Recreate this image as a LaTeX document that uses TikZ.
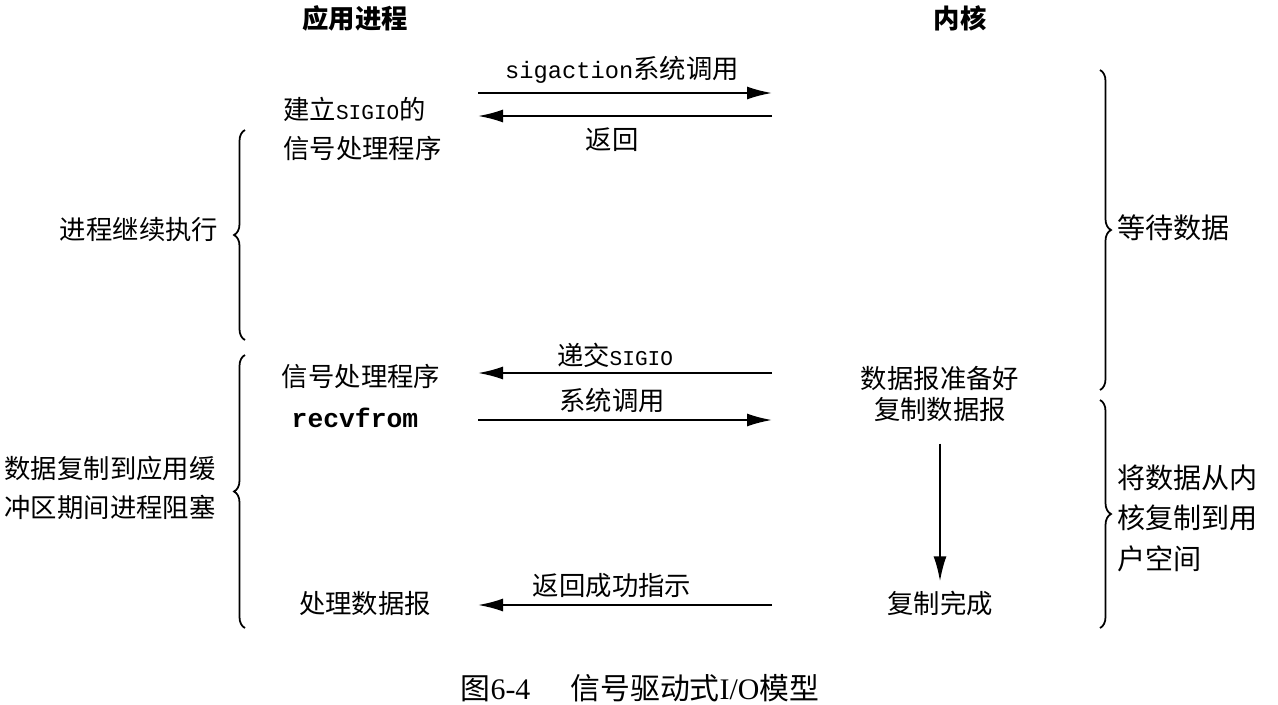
\documentclass[tikz,border=0pt]{standalone}
\usepackage{fontspec}
\setmainfont{Noto Sans CJK SC}
\setmonofont{Liberation Mono}
\newfontfamily\capfont{Liberation Serif}
\usepackage{tikz}
\usetikzlibrary{arrows.meta}
\usetikzlibrary{decorations.pathreplacing}

\newcommand{\sigio}{{\ttfamily\fontsize{12pt}{14pt}\selectfont SIGIO}}

\tikzset{
  txt/.style={inner sep=0pt, font=\fontsize{15pt}{22pt}\selectfont},
  wide/.style={inner sep=0pt, font=\fontsize{16pt}{23pt}\selectfont},
  head/.style={inner sep=0pt, font=\fontsize{15pt}{22pt}\selectfont\bfseries},
  call/.style={-{Latex[length=0.5cm,width=0.26cm]}, line width=1.1pt},
  grp/.style={decorate, decoration={brace, amplitude=0.22cm}, line width=1pt},
}

\begin{document}
\begin{tikzpicture}[x=0.02cm, y=-0.02cm]
  \useasboundingbox (0,0) rectangle (1278,704);

  \node[head] (app)  at (355, 18) {应用进程};
  \node[head] (kern) at (960, 18) {内核};

  % arrow ends
  \coordinate (appA) at (478, 93);  \coordinate (kerA) at (772, 93);
  \coordinate (appB) at (478,116);  \coordinate (kerB) at (772,116);
  \coordinate (appC) at (478,373);  \coordinate (kerC) at (772,373);
  \coordinate (appD) at (478,420);  \coordinate (kerD) at (772,420);
  \coordinate (appE) at (478,605);  \coordinate (kerE) at (772,605);

  \node[txt] (sigcall) at (622, 70) {{\ttfamily\fontsize{13.5pt}{16pt}\selectfont sigaction}系统调用};
  \node[txt] (ret1)    at (612,140) {返回};
  \node[txt, anchor=west, align=left] (setup) at (283,129) {建立\sigio 的\\信号处理程序};

  \draw[call] (appA) -- (kerA);
  \draw[call] (kerB) -- (appB);

  \node[txt] (deliver) at (615,355) {递交\sigio};
  \node[txt] (handler) at (361,376) {信号处理程序};
  \node[txt] (recv)    at (355,418) {{\ttfamily\bfseries\fontsize{15pt}{18pt}\selectfont recvfrom}};
  \node[txt] (syscall) at (612,400) {系统调用};
  \node[txt] (ready)   at (940,378) {数据报准备好};
  \node[txt] (copy)    at (940,410) {复制数据报};
  \node[txt] (done)    at (940,603) {复制完成};
  \node[txt] (process) at (365,603) {处理数据报};
  \node[txt] (ret2)    at (612,586) {返回成功指示};

  \draw[call] (kerC) -- (appC);
  \draw[call] (appD) -- (kerD);
  \draw[call] (kerE) -- (appE);
  \draw[call, shorten <=0.42cm, shorten >=0.18cm] (copy) -- (done);

  % braces
  \coordinate (lb1top) at (245,130); \coordinate (lb1bot) at (245,340);
  \coordinate (lb2top) at (245,355); \coordinate (lb2bot) at (245,628);
  \coordinate (rb1top) at (1100, 70); \coordinate (rb1bot) at (1100,390);
  \coordinate (rb2top) at (1100,400); \coordinate (rb2bot) at (1100,628);

  \draw[grp] (lb1bot) -- (lb1top);
  \draw[grp] (lb2bot) -- (lb2top);
  \draw[grp] (rb1top) -- (rb1bot);
  \draw[grp] (rb2top) -- (rb2bot);

  \node[txt] (goon)  at (139,230) {进程继续执行};
  \node[txt, align=left] (block) at (110,488) {数据复制到应用缓\\冲区期间进程阻塞};
  \node[wide, anchor=west] (wait) at (1117,228) {等待数据};
  \node[wide, anchor=west, align=left] (move) at (1117,518) {将数据从内\\核复制到用\\户空间};

  \node[txt, font=\fontsize{17pt}{20pt}\selectfont] (caption) at (640,688) {图{\capfont 6-4}\hspace{0.8cm}信号驱动式{\capfont I/O}模型};
\end{tikzpicture}
\end{document}
